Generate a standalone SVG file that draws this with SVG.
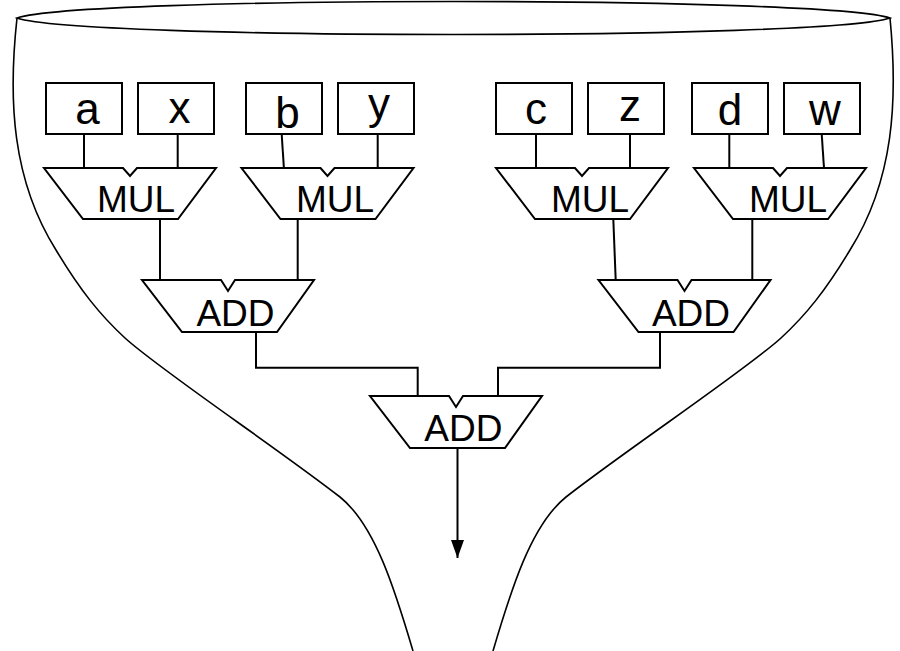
<svg xmlns="http://www.w3.org/2000/svg" xmlns:xlink="http://www.w3.org/1999/xlink" width="900" height="651" viewBox="0 0 900 651">
  <style>
    .outline { fill: none; stroke: #000; stroke-width: 1.6; }
    .box { fill: #fff; stroke: #000; stroke-width: 2; }
    .unit { fill: #fff; stroke: #000; stroke-width: 2; stroke-linejoin: miter; }
    .wire { fill: none; stroke: #000; stroke-width: 2; }
    .var { font-family: "Liberation Sans", Arial, sans-serif; font-size: 44px; text-anchor: middle; fill: #000; }
    .op { font-family: "Liberation Sans", Arial, sans-serif; font-size: 37px; text-anchor: middle; fill: #000; }
  </style>
  <defs>
    <!-- operator shapes: trapezoid with an input notch on top -->
    <path id="mulShape" d="M0,0 H79 L86,8 L93,0 H172 L134,51 H39 Z"/>
    <path id="addShape" d="M0,0 H79 L86,11 L93,0 H172 L135,52 H40 Z"/>
    <marker id="arrow" markerWidth="18" markerHeight="14" refX="18" refY="0" orient="auto" markerUnits="userSpaceOnUse" overflow="visible">
      <path d="M0,-6.5 L18,0 L0,6.5 Z" fill="#000"/>
    </marker>
  </defs>

  <!-- funnel outline -->
  <g id="funnel">
    <path class="outline" d="M17,18 C80,-4 826,-4 890,18 C826,40 80,40 17,18 Z"/>
    <path class="outline" d="M17,18 C8,100 12,180 56,250 C80,290 100,315 125,338 C160,370 280,450 340,497 C375,525 395,590 413,651"/>
    <path class="outline" d="M890,18 C898,100 894,180 850,250 C826,290 806,315 781,338 C746,370 626,450 566,497 C531,525 511,590 493,651"/>
  </g>

  <!-- connectors -->
  <g id="connectors">
    <path class="wire" d="M84,134 V170"/>
    <path class="wire" d="M177.7,134 V168"/>
    <path class="wire" d="M281.7,134 L284,170"/>
    <path class="wire" d="M377.7,131 V170"/>
    <path class="wire" d="M536,134 V170"/>
    <path class="wire" d="M630,134 V168"/>
    <path class="wire" d="M729.3,134 V168"/>
    <path class="wire" d="M821.7,134 L824,168"/>
    <path class="wire" d="M160,219 V280"/>
    <path class="wire" d="M297.7,219 V282"/>
    <path class="wire" d="M613.3,219 L615.7,280"/>
    <path class="wire" d="M752.3,219 V282"/>
    <path class="wire" d="M256,332 V367.7 H417.7 V396"/>
    <path class="wire" d="M660,332 V367.7 H498 V396"/>
    <path class="wire" d="M457.5,448 V558" marker-end="url(#arrow)"/>
  </g>

  <!-- input operands -->
  <g id="in-a"><rect class="box" x="46" y="83" width="76" height="51"/><text class="var" x="87.5" y="124">a</text></g>
  <g id="in-x"><rect class="box" x="138" y="83" width="76" height="51"/><text class="var" x="179.5" y="123">x</text></g>
  <g id="in-b"><rect class="box" x="246" y="83" width="76" height="51"/><text class="var" x="287.5" y="128">b</text></g>
  <g id="in-y"><rect class="box" x="338" y="83" width="76" height="51"/><text class="var" x="379" y="119">y</text></g>
  <g id="in-c"><rect class="box" x="496" y="83" width="76" height="51"/><text class="var" x="536" y="124">c</text></g>
  <g id="in-z"><rect class="box" x="588" y="83" width="76" height="51"/><text class="var" x="630" y="121">z</text></g>
  <g id="in-d"><rect class="box" x="692" y="83" width="76" height="51"/><text class="var" x="730" y="124.5">d</text></g>
  <g id="in-w"><rect class="box" x="784" y="83" width="76" height="51"/><text class="var" x="825" y="124.5">w</text></g>

  <!-- multipliers -->
  <g id="mul-1"><use href="#mulShape" class="unit" x="44" y="168"/><text class="op" x="136" y="211.5">MUL</text></g>
  <g id="mul-2"><use href="#mulShape" class="unit" x="241.5" y="168"/><text class="op" x="335" y="211.5">MUL</text></g>
  <g id="mul-3"><use href="#mulShape" class="unit" x="496" y="168"/><text class="op" x="590" y="211.5">MUL</text></g>
  <g id="mul-4"><use href="#mulShape" class="unit" x="694" y="168"/><text class="op" x="788" y="211.5">MUL</text></g>

  <!-- adders -->
  <g id="add-1"><use href="#addShape" class="unit" x="142" y="280"/><text class="op" x="235.5" y="326">ADD</text></g>
  <g id="add-2"><use href="#addShape" class="unit" x="598.5" y="280"/><text class="op" x="691" y="326">ADD</text></g>
  <g id="add-3"><use href="#addShape" class="unit" x="370" y="396"/><text class="op" x="463.3" y="441">ADD</text></g>
</svg>
